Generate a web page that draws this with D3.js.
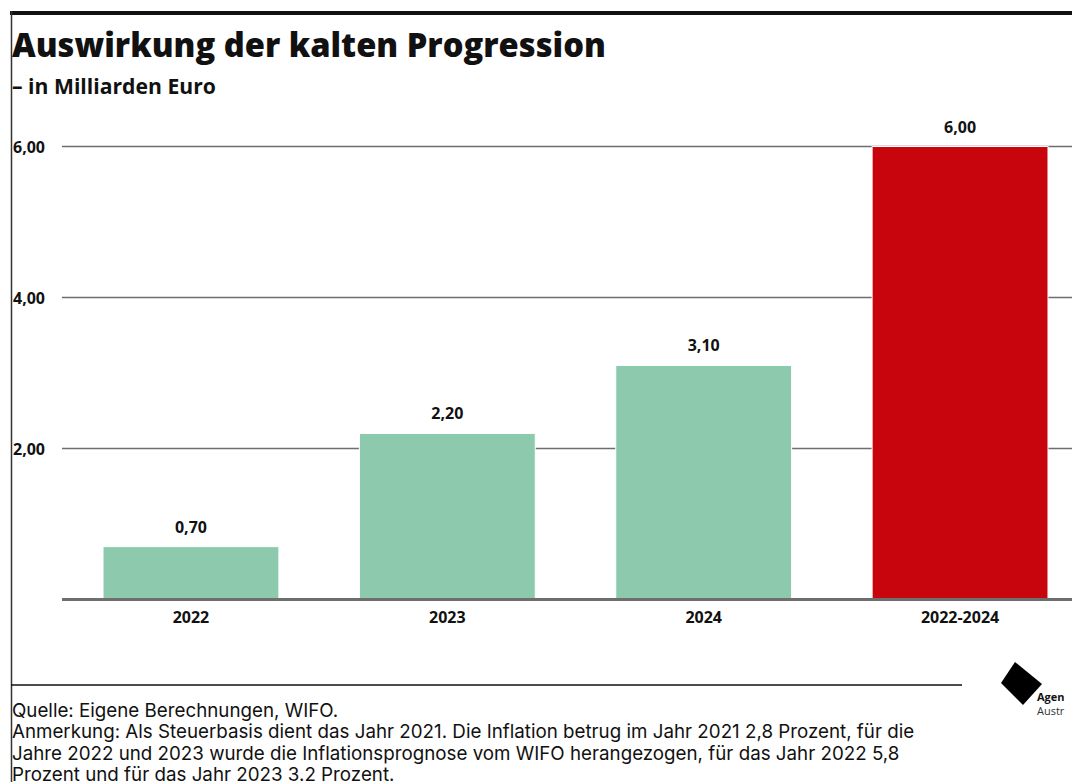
<!DOCTYPE html>
<html><head><meta charset="utf-8">
<script src="https://cdn.jsdelivr.net/npm/d3@7"></script>
<style>
html,body{margin:0;padding:0;background:#fff;}
svg{display:block;}
</style></head>
<body>
<script>
const categories = ["2022", "2023", "2024", "2022-2024"];
const values = [0.70, 2.20, 3.10, 6.00];
const barColors = ["#8cc9ad", "#8cc9ad", "#8cc9ad", "#c8040c"];
const yTicks = [2, 4, 6];
const title = "Auswirkung der kalten Progression";
const subtitle = "– in Milliarden Euro";
const notes = [
  "Quelle: Eigene Berechnungen, WIFO.",
  "Anmerkung: Als Steuerbasis dient das Jahr 2021. Die Inflation betrug im Jahr 2021 2,8 Prozent, für die",
  "Jahre 2022 und 2023 wurde die Inflationsprognose vom WIFO herangezogen, für das Jahr 2022 5,8",
  "Prozent und für das Jahr 2023 3.2 Prozent."
];

const W = 1072, H = 782;
const fmt = v => d3.format(".2f")(v).replace(".", ",");
const font = "'Open Sans', 'Noto Sans', sans-serif";
const noteFont = "Inter, 'Open Sans', sans-serif";

const svg = d3.select("body").append("svg").attr("width", W).attr("height", H);

function fitSize(sel, target, base) {
  const w = sel.node().getComputedTextLength();
  sel.attr("font-size", base * target / w);
}

// frame
svg.append("rect").attr("x", 10).attr("y", 11).attr("width", W - 10).attr("height", 4).attr("fill", "#111");
svg.append("line").attr("x1", 11.5).attr("x2", 11.5).attr("y1", 11).attr("y2", H).attr("stroke", "#333").attr("stroke-width", 1.5);

const t = svg.append("text").attr("x", 12).attr("y", 57).text(title)
  .attr("font-family", font).attr("font-weight", 800).attr("font-size", 30).attr("fill", "#111");
fitSize(t, 594, 30);
const st = svg.append("text").attr("x", 12).attr("y", 94).text(subtitle)
  .attr("font-family", font).attr("font-weight", 700).attr("font-size", 18).attr("fill", "#111");
fitSize(st, 204, 18);

const x = d3.scaleBand().domain(categories).range([62, 1089]).paddingInner(0.314).paddingOuter(0.16);
const y = d3.scaleLinear().domain([0, 6]).range([599.5, 146.5]);

// gridlines
const grid = svg.append("g");
grid.selectAll("line").data(yTicks).join("line")
  .attr("x1", 62).attr("x2", W).attr("y1", d => y(d)).attr("y2", d => y(d))
  .attr("stroke", "#6e6e6e").attr("stroke-width", 1.5);
grid.selectAll("text").data(yTicks).join("text")
  .attr("x", 13).attr("y", d => y(d) + 6).text(d => fmt(d))
  .attr("font-family", font).attr("font-weight", 700).attr("font-size", 16).attr("fill", "#111");

// bars
svg.append("g").selectAll("rect").data(values).join("rect")
  .attr("x", (d, i) => x(categories[i])).attr("width", x.bandwidth())
  .attr("y", d => y(d)).attr("height", d => y(0) - y(d))
  .attr("fill", (d, i) => barColors[i]).attr("stroke", "#fff").attr("stroke-width", 1);

// value labels
svg.append("g").selectAll("text").data(values).join("text")
  .attr("x", (d, i) => x(categories[i]) + x.bandwidth() / 2).attr("y", d => y(d) - 14)
  .attr("text-anchor", "middle").text(d => fmt(d))
  .attr("font-family", font).attr("font-weight", 700).attr("font-size", 16).attr("fill", "#111");

// baseline axis
const xAxis = svg.append("g").attr("transform", `translate(0,${y(0)})`)
  .call(d3.axisBottom(x).tickSize(0).tickPadding(12));
xAxis.select(".domain").remove();
svg.append("line").attr("x1", 62).attr("x2", W).attr("y1", y(0)).attr("y2", y(0))
  .attr("stroke", "#6e6e6e").attr("stroke-width", 3);
xAxis.selectAll("text").attr("font-family", font).attr("font-weight", 700).attr("font-size", 16).attr("fill", "#111");

// separator
svg.append("line").attr("x1", 11).attr("x2", 962).attr("y1", 685).attr("y2", 685).attr("stroke", "#111").attr("stroke-width", 1.5);

// logo
svg.append("path").attr("d", "M1015,662 L1042,684 L1023,705 L1001,683 Z").attr("fill", "#000");
svg.append("text").attr("x", 1037).attr("y", 701).text("Agen")
  .attr("font-family", font).attr("font-weight", 700).attr("font-size", 11).attr("fill", "#111");
svg.append("text").attr("x", 1037).attr("y", 715).text("Austr")
  .attr("font-family", font).attr("font-weight", 400).attr("font-size", 11).attr("fill", "#333");

// notes
const nt = svg.append("g").selectAll("text").data(notes).join("text")
  .attr("x", 12).attr("y", (d, i) => 717 + i * 21.4).text(d => d)
  .attr("font-family", noteFont).attr("font-weight", 400).attr("font-size", 16).attr("fill", "#111");
const w2 = nt.nodes()[1].getComputedTextLength();
nt.attr("font-size", 16 * 903 / w2);
</script>
</body></html>
